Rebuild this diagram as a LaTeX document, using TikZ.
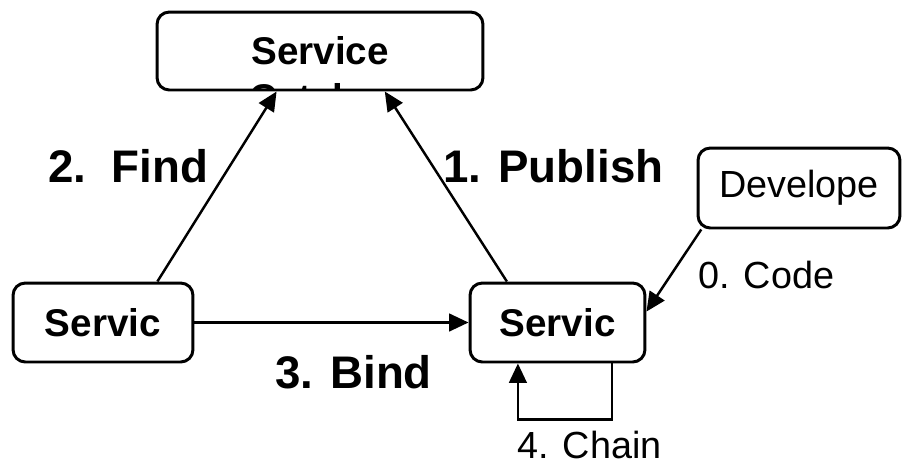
\documentclass[tikz,border=0pt]{standalone}
\usepackage{fontspec}
\setmainfont{Liberation Sans}
\usetikzlibrary{arrows.meta}

\tikzset{
  box/.style={draw, line width=1.7pt, rounded corners=7pt, inner sep=0pt},
  boxtext/.style={font=\bfseries\fontsize{22}{23.5}\selectfont},
  flow/.style={->, >={Triangle[length=11pt,width=10pt]}, line width=1.4pt},
  steplabel/.style={anchor=base west, inner sep=0pt, font=\bfseries\fontsize{26}{28}\selectfont},
  notelabel/.style={anchor=base west, inner sep=0pt, font=\fontsize{21.5}{24}\selectfont}
}

\begin{document}
\begin{tikzpicture}[x=0.02cm, y=-0.02cm]
  \useasboundingbox (0,0) rectangle (904,464);

  % Boxes (pixel coordinates, y downwards)
  \node[box, minimum width=6.52cm, minimum height=1.56cm] (catalog) at (320,51) {};
  \begin{scope}
    \clip ([yshift=1.6pt]catalog.south west) rectangle (catalog.north east);
    \node[anchor=base, align=center, inner sep=0pt, font=\bfseries\fontsize{22}{26.4}\selectfont] (catalogtext) at (320,111) {Service\\Catalog};
  \end{scope}
  \node[box, boxtext, minimum width=3.6cm, minimum height=1.58cm] (requester) at (103,322.5) {Servic};
  \node[box, boxtext, minimum width=3.5cm, minimum height=1.58cm] (provider) at (557.5,322.5) {Servic};
  \node[box, font=\fontsize{21.5}{24}\selectfont, minimum width=4.04cm, minimum height=1.6cm] (developer) at (799,188) {Develope};

  % Arrows
  \draw[flow] (requester.37) -- (catalog.223);
  \draw[flow] (provider.141) -- (catalog.328);
  \draw[flow] (requester.east) -- (provider.west);
  \draw[flow] (developer.203) -- (provider.7);
  \draw[flow] (provider.323) -- ++(0,56) -| (provider.226.5);

  % Labels
  \node[steplabel] (findlabel) at (48,182) {2.\ \ Find};
  \node[steplabel] (publishlabel) at (443,182) {1. Publish};
  \node[steplabel] (bindlabel) at (275,388) {3. Bind};
  \node[notelabel] (codelabel) at (698,288) {0. Code};
  \node[notelabel] (chainlabel) at (517,458) {4. Chain};
\end{tikzpicture}
\end{document}
